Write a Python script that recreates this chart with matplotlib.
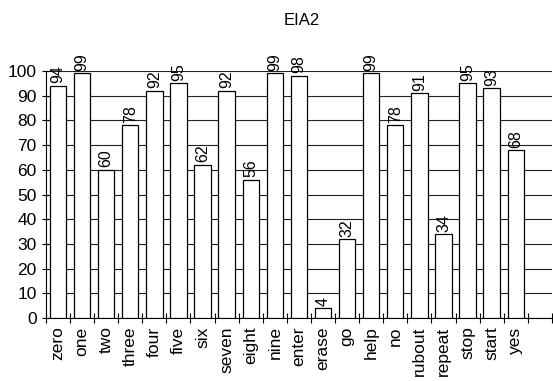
import matplotlib
import matplotlib.pyplot as plt

matplotlib.use("agg")

plt.rcParams["font.family"] = ["Liberation Sans", "DejaVu Sans"]

words = ["zero", "one", "two", "three", "four", "five", "six", "seven", "eight",
         "nine", "enter", "erase", "go", "help", "no", "rubout", "repeat",
         "stop", "start", "yes"]
scores = [94, 99, 60, 78, 92, 95, 62, 92, 56, 99, 98, 4, 32, 99, 78, 91, 34,
          95, 93, 68]
yticks = list(range(0, 101, 10))

fig = plt.figure(figsize=(5.53, 3.81), dpi=100)
ax = fig.add_axes([0.083, 0.165, 0.915, 0.649])

x = list(range(len(words)))
ax.bar(x, scores, width=0.68, color="white", edgecolor="black",
       linewidth=0.9, zorder=3)
for xi, v in zip(x, scores):
    ax.text(xi, v + 1, str(v), rotation=90, ha="center", va="bottom",
            fontsize=11.5, zorder=4)

ax.set_xlim(-0.5, len(words) + 0.5)
ax.set_ylim(0, 100)
ax.set_yticks(yticks)
ax.tick_params(axis="y", labelsize=12.5, direction="inout", length=6, width=0.8)
ax.yaxis.grid(True, color="#222222", linewidth=0.8, zorder=0)

ax.set_xticks(x)
ax.set_xticklabels(words, rotation=90, fontsize=12.5)
ax.tick_params(axis="x", length=0, pad=6)
ax.set_xticks([i - 0.5 for i in range(len(words) + 2)], minor=True)
ax.tick_params(axis="x", which="minor", direction="inout", length=7, width=0.8)

ax.spines["top"].set_visible(False)
ax.spines["right"].set_visible(False)
ax.spines["left"].set_linewidth(0.8)
ax.spines["bottom"].set_linewidth(0.8)

fig.text(0.545, 0.945, "EIA2", ha="center", va="center", fontsize=12)

fig.savefig("out.png", dpi=100)
plt.close(fig)
